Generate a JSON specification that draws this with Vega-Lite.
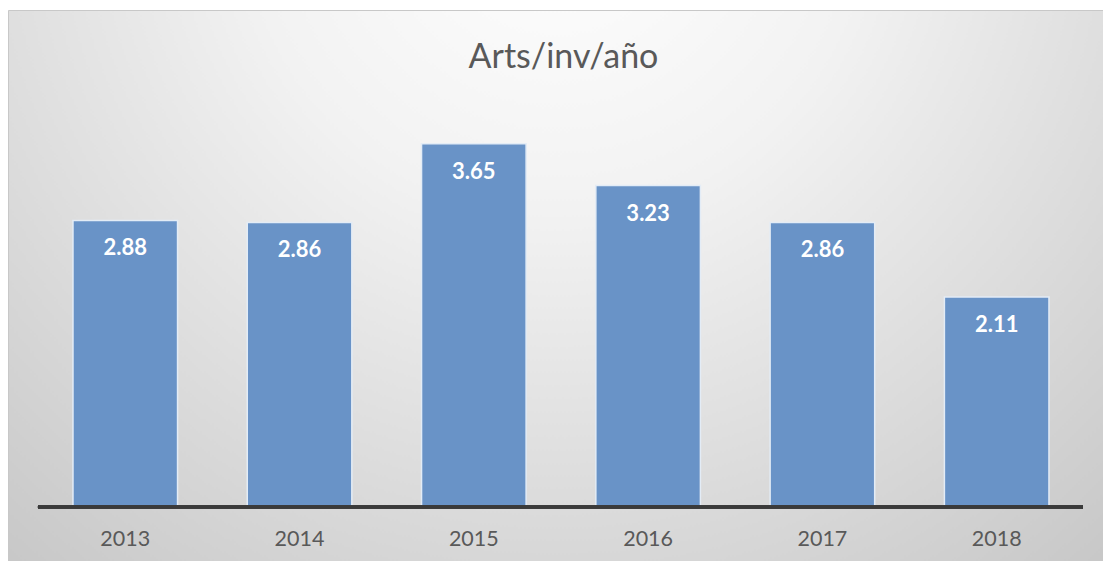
{
  "$schema": "https://vega.github.io/schema/vega-lite/v6.json",
  "autosize": "none",
  "width": 1095,
  "height": 551,
  "padding": {"left": 8, "top": 10, "right": 0, "bottom": 0},
  "background": "#ffffff",
  "title": {
    "text": "Arts/inv/año",
    "font": "Lato",
    "fontSize": 34,
    "fontWeight": "normal",
    "color": "#595959",
    "anchor": "middle",
    "baseline": "alphabetic",
    "offset": -92,
    "dx": 8
  },
  "config": {
    "view": {
      "stroke": "#c8c8c8",
      "strokeWidth": 1,
      "fill": {
        "gradient": "radial",
        "x1": 0.5, "y1": 0.15, "r1": 0,
        "x2": 0.5, "y2": 0.15, "r2": 0.8,
        "stops": [
          {"offset": 0, "color": "#ffffff"},
          {"offset": 0.35, "color": "#f2f2f2"},
          {"offset": 1, "color": "#c6c6c6"}
        ]
      }
    }
  },
  "data": {
    "values": [
      {"year": "2013", "value": 2.88},
      {"year": "2014", "value": 2.86},
      {"year": "2015", "value": 3.65},
      {"year": "2016", "value": 3.23},
      {"year": "2017", "value": 2.86},
      {"year": "2018", "value": 2.11}
    ]
  },
  "encoding": {
    "x": {
      "field": "year",
      "type": "nominal",
      "sort": null,
      "scale": {"paddingInner": 0.4, "paddingOuter": 0.3414, "align": 0.546},
      "axis": null
    }
  },
  "layer": [
    {
      "mark": {"type": "bar", "color": "#6993c7", "stroke": "#e3ecf6", "strokeWidth": 1.5},
      "encoding": {
        "y": {"field": "value", "type": "quantitative", "scale": {"domain": [-0.543, 4.995], "nice": false, "zero": false}, "axis": null},
        "y2": {"datum": 0}
      }
    },
    {
      "mark": {"type": "rule", "color": "#3a3a3a", "strokeWidth": 3},
      "encoding": {
        "x": {"datum": "2013", "bandPosition": -0.335},
        "x2": {"datum": "2018", "bandPosition": 1.325},
        "y": {"datum": 0}
      }
    },
    {
      "mark": {"type": "text", "color": "#ffffff", "font": "Lato", "fontWeight": "bold", "fontSize": 22, "baseline": "middle", "dy": 28},
      "encoding": {
        "y": {"field": "value", "type": "quantitative"},
        "text": {"field": "value", "type": "quantitative", "format": ".2f"}
      }
    },
    {
      "mark": {"type": "text", "color": "#595959", "font": "Lato", "fontSize": 21.5, "baseline": "middle"},
      "encoding": {
        "y": {"datum": -0.33},
        "text": {"field": "year", "type": "nominal"}
      }
    }
  ]
}
